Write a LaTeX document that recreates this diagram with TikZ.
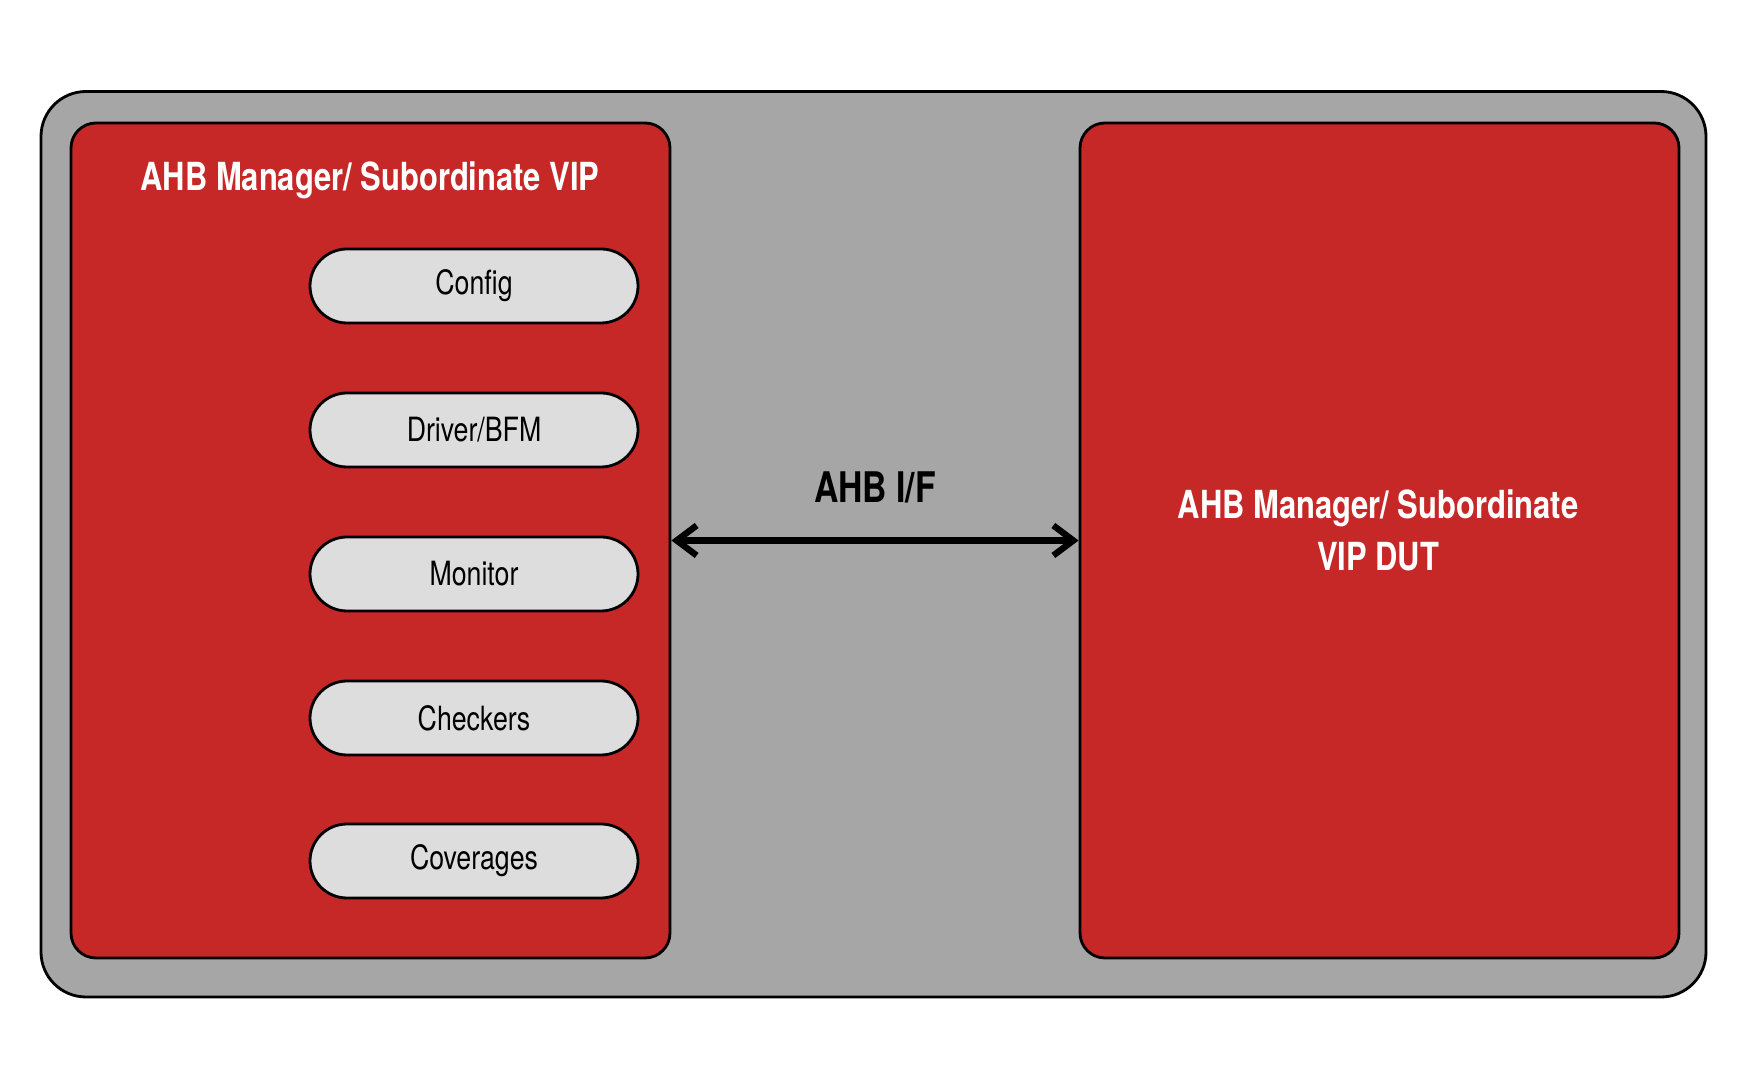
\documentclass[tikz,border=0pt]{standalone}
\usepackage{fontspec}
\setmainfont[FakeStretch=0.8]{TeX Gyre Heros}
\usetikzlibrary{arrows.meta}

\definecolor{vipred}{HTML}{C62828}
\definecolor{frame}{HTML}{A6A6A6}
\definecolor{pill}{HTML}{DDDDDD}

\tikzset{
  redbox/.style={fill=vipred, draw=black, line width=0.8pt, rounded corners=0.25cm,
    minimum width=5.99cm, minimum height=8.35cm},
  pillbox/.style={fill=pill, draw=black, line width=0.8pt, rounded corners=0.37cm,
    minimum width=3.28cm, minimum height=0.74cm, font=\fontsize{9.5}{11}\selectfont},
  whitetitle/.style={text=white, font=\fontsize{11}{14.8}\selectfont\bfseries, align=center}
}

\begin{document}
\begin{tikzpicture}[]
\useasboundingbox (0,0) rectangle (17.5,10.8);

\draw[fill=frame, line width=0.8pt, rounded corners=0.45cm] (0.41,0.83) rectangle (17.06,9.885);

\draw[solid]
(3.705,5.395) node[redbox] (VIP) {}
(13.795,5.395) node[redbox] (DUT) {}

(3.70,9.00) node[whitetitle] (VIPtitle) {AHB Manager/ Subordinate VIP}
(13.78,5.50) node[whitetitle] (DUTtitle) {AHB Manager/ Subordinate\\VIP DUT}

(4.74,7.94) node[pillbox] (Config) {Config}
(4.74,6.50) node[pillbox] (Driver) {Driver/BFM}
(4.74,5.06) node[pillbox] (Monitor) {Monitor}
(4.74,3.62) node[pillbox] (Checkers) {Checkers}
(4.74,2.19) node[pillbox] (Coverages) {Coverages}

(8.75,5.93) node[font=\fontsize{12}{14}\selectfont\bfseries] (IF) {AHB I/F};

\draw[line width=1.8pt, line cap=round, line join=round,
  {Straight Barb[length=2mm,width=3mm]}-{Straight Barb[length=2mm,width=3mm]}]
  (VIP.east) -- (DUT.west);
\end{tikzpicture}
\end{document}
